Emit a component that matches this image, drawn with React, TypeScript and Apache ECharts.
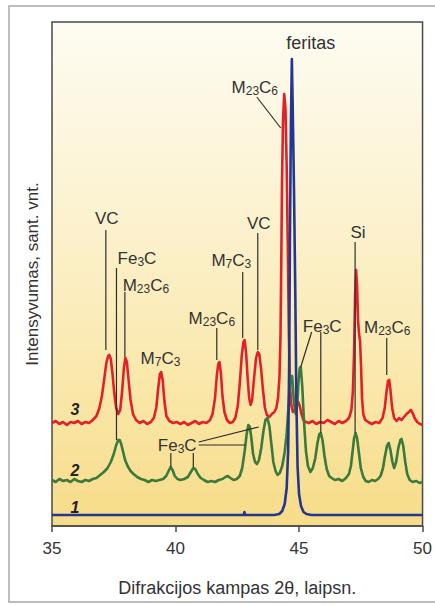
import React, { useEffect, useRef } from "react";
import * as echarts from "echarts";

// Axis ranges: diffraction angle 2θ (degrees) and relative intensity (arbitrary units)
const X_MIN = 35;
const X_MAX = 50;
const X_STEP = 5;
const Y_MIN = 0;
const Y_MAX = 504;

const X_TITLE = "Difrakcijos kampas 2θ, laipsn.";
const Y_TITLE = "Intensyvumas, sant. vnt.";

// Pattern 1 – ferrite only
const pattern1: [number, number][] = [
  [35.0, 11], [36.5, 11], [38.0, 11], [39.5, 11], [41.0, 11], [42.5, 11], [42.76, 11],
  [42.79, 14], [42.82, 11], [43.5, 11], [44.0, 11], [44.2, 12], [44.32, 15], [44.42, 22],
  [44.5, 38], [44.56, 75], [44.6, 160], [44.63, 280], [44.67, 400], [44.71, 467],
  [44.75, 410], [44.8, 330], [44.85, 230], [44.89, 130], [44.94, 60], [45.0, 32],
  [45.08, 20], [45.18, 14], [45.3, 12], [45.5, 11], [47.0, 11], [48.5, 11], [50.0, 11],
];

// Pattern 2
const pattern2: [number, number][] = [
  [35.0, 46], [35.15, 44], [35.3, 47], [35.45, 45], [35.6, 46], [35.75, 44], [35.9, 47],
  [36.05, 45], [36.2, 44], [36.35, 46], [36.5, 45], [36.65, 47], [36.8, 48], [36.95, 51],
  [37.1, 54], [37.25, 58], [37.38, 64], [37.5, 72], [37.6, 81], [37.68, 86], [37.74, 86],
  [37.8, 82], [37.88, 74], [37.96, 66], [38.06, 60], [38.18, 55], [38.3, 52], [38.45, 49],
  [38.6, 47], [38.75, 46], [38.9, 44], [39.05, 46], [39.2, 45], [39.35, 46], [39.5, 47],
  [39.62, 50], [39.72, 55], [39.8, 59], [39.88, 56], [39.97, 50], [40.08, 47], [40.2, 46],
  [40.35, 47], [40.5, 49], [40.62, 54], [40.72, 58], [40.8, 57], [40.9, 52], [41.02, 48],
  [41.15, 46], [41.3, 44], [41.45, 45], [41.6, 44], [41.75, 46], [41.9, 47], [42.02, 49],
  [42.12, 50], [42.22, 48], [42.35, 46], [42.48, 47], [42.6, 50], [42.7, 58], [42.8, 75],
  [42.88, 92], [42.95, 101], [43.01, 99], [43.07, 88], [43.14, 72], [43.22, 64], [43.3, 62],
  [43.38, 66], [43.47, 78], [43.56, 95], [43.64, 106], [43.72, 108], [43.8, 100], [43.88, 82],
  [43.96, 64], [44.05, 55], [44.13, 51], [44.22, 53], [44.32, 60], [44.42, 74], [44.5, 92],
  [44.58, 122], [44.65, 148], [44.72, 150], [44.8, 122], [44.87, 112], [44.93, 122],
  [44.98, 145], [45.03, 158], [45.07, 159], [45.13, 140], [45.2, 105], [45.28, 75],
  [45.36, 60], [45.46, 54], [45.56, 58], [45.66, 68], [45.74, 82], [45.82, 92], [45.88, 93],
  [45.95, 86], [46.03, 70], [46.12, 57], [46.22, 50], [46.32, 48], [46.45, 46], [46.6, 47],
  [46.75, 45], [46.9, 48], [47.02, 52], [47.1, 60], [47.17, 75], [47.23, 88], [47.29, 93],
  [47.35, 88], [47.42, 74], [47.5, 58], [47.6, 49], [47.7, 45], [47.82, 44], [47.95, 46],
  [48.08, 45], [48.2, 47], [48.3, 50], [48.4, 58], [48.48, 70], [48.56, 80], [48.63, 83],
  [48.7, 76], [48.78, 64], [48.85, 58], [48.93, 64], [49.02, 78], [49.1, 86], [49.15, 87],
  [49.22, 80], [49.3, 64], [49.38, 52], [49.48, 46], [49.6, 44], [49.75, 45], [49.88, 43],
  [50.0, 44],
];

// Pattern 3
const pattern3: [number, number][] = [
  [35.0, 103], [35.15, 105], [35.3, 102], [35.45, 104], [35.6, 101], [35.75, 104], [35.9, 103],
  [36.05, 105], [36.2, 102], [36.35, 104], [36.5, 103], [36.65, 106], [36.8, 110], [36.92, 118],
  [37.02, 130], [37.12, 148], [37.2, 163], [37.27, 170], [37.32, 171], [37.38, 167],
  [37.45, 152], [37.52, 133], [37.6, 118], [37.68, 112], [37.76, 116], [37.84, 135],
  [37.91, 158], [37.97, 168], [38.03, 164], [38.1, 146], [38.18, 126], [38.28, 112],
  [38.4, 106], [38.55, 103], [38.7, 105], [38.85, 102], [39.0, 104], [39.12, 108], [39.22, 118],
  [39.3, 138], [39.37, 152], [39.42, 154], [39.48, 146], [39.55, 125], [39.63, 110],
  [39.75, 105], [39.9, 103], [40.05, 104], [40.2, 102], [40.35, 104], [40.5, 101], [40.65, 103],
  [40.8, 105], [40.95, 102], [41.1, 104], [41.25, 103], [41.4, 106], [41.5, 112], [41.6, 128],
  [41.67, 150], [41.73, 162], [41.78, 164], [41.84, 152], [41.9, 130], [41.98, 114],
  [42.08, 106], [42.2, 103], [42.32, 104], [42.42, 108], [42.52, 120], [42.6, 142],
  [42.68, 170], [42.75, 184], [42.8, 186], [42.86, 172], [42.92, 148], [42.98, 128],
  [43.04, 121], [43.1, 126], [43.18, 148], [43.26, 168], [43.33, 174], [43.39, 172],
  [43.46, 158], [43.54, 136], [43.62, 118], [43.7, 111], [43.8, 109], [43.9, 112], [44.0, 114],
  [44.08, 118], [44.15, 128], [44.21, 150], [44.25, 190], [44.28, 260], [44.31, 340],
  [44.35, 405], [44.4, 432], [44.45, 418], [44.5, 360], [44.55, 270], [44.59, 190],
  [44.63, 145], [44.68, 122], [44.75, 114], [44.83, 116], [44.9, 121], [44.97, 124],
  [45.03, 120], [45.1, 112], [45.18, 106], [45.28, 104], [45.4, 103], [45.55, 105], [45.7, 102],
  [45.85, 104], [46.0, 103], [46.15, 106], [46.3, 104], [46.45, 102], [46.6, 105], [46.75, 103],
  [46.9, 105], [47.02, 108], [47.12, 116], [47.18, 135], [47.23, 175], [47.27, 230],
  [47.31, 256], [47.35, 240], [47.39, 205], [47.43, 192], [47.47, 185], [47.51, 160],
  [47.55, 128], [47.6, 112], [47.68, 106], [47.8, 104], [47.95, 102], [48.1, 104], [48.25, 103],
  [48.38, 108], [48.47, 118], [48.54, 134], [48.6, 145], [48.65, 146], [48.7, 136], [48.77, 118],
  [48.85, 108], [48.95, 105], [49.05, 108], [49.15, 106], [49.25, 109], [49.35, 112],
  [49.45, 114], [49.53, 116], [49.6, 113], [49.68, 108], [49.78, 104], [49.9, 102], [50.0, 101],
];

// Phase labels: text position [2θ, intensity] and leader lines [x1, y1, x2, y2]
type Segment = [number, number, number, number];
type Annotation = { text: string; x: number; y: number; lines: Segment[]; style?: "number" | "title" };

const phaseLabels: Annotation[] = [
  { text: "feritas", x: 45.47, y: 483, lines: [], style: "title" },
  { text: "M{s|23}C{s|6}", x: 43.21, y: 439, lines: [[43.29, 429, 44.26, 398]] },
  { text: "VC", x: 37.22, y: 308, lines: [[37.18, 296, 37.18, 176]] },
  { text: "Fe{s|3}C", x: 38.44, y: 268, lines: [[37.61, 258, 37.61, 86]] },
  { text: "M{s|23}C{s|6}", x: 38.8, y: 241, lines: [[37.95, 234, 37.95, 169]] },
  { text: "M{s|7}C{s|3}", x: 39.39, y: 168, lines: [] },
  { text: "M{s|23}C{s|6}", x: 41.47, y: 208, lines: [[41.67, 198, 41.67, 166]] },
  { text: "M{s|7}C{s|3}", x: 42.26, y: 266, lines: [[42.72, 254, 42.72, 188]] },
  { text: "VC", x: 43.37, y: 303, lines: [[43.33, 293, 43.33, 176]] },
  {
    text: "Fe{s|3}C",
    x: 45.94,
    y: 200,
    lines: [
      [45.51, 194, 45.07, 159],
      [45.88, 194, 45.88, 93],
    ],
  },
  { text: "Si", x: 47.39, y: 294, lines: [[47.27, 284, 47.27, 93]] },
  { text: "M{s|23}C{s|6}", x: 48.57, y: 199, lines: [[48.55, 188, 48.55, 151]] },
  {
    text: "Fe{s|3}C",
    x: 40.07,
    y: 81,
    lines: [
      [39.81, 73, 39.81, 59],
      [40.72, 73, 40.72, 59],
      [40.94, 81, 42.84, 81],
      [40.94, 84, 43.37, 99],
    ],
  },
  { text: "3", x: 35.93, y: 117, lines: [], style: "number" },
  { text: "2", x: 35.93, y: 56, lines: [], style: "number" },
  { text: "1", x: 35.93, y: 19, lines: [], style: "number" },
];

const FONT = "'Liberation Sans', Arial, Helvetica, sans-serif";
const INK = "#333333";

export default function App() {
  const ref = useRef<HTMLDivElement>(null);

  useEffect(() => {
    document.body.style.margin = "0";
    if (!ref.current) return;
    const chart = echarts.init(ref.current, undefined, { renderer: "svg" });

    const lineSeries = (name: string, data: [number, number][], color: string) => ({
      name,
      type: "line",
      data,
      showSymbol: false,
      symbol: "none",
      smooth: false,
      lineStyle: { color, width: 2.6, join: "round" },
      silent: true,
    });

    chart.setOption({
      animation: false,
      backgroundColor: "#ffffff",
      graphic: [
        {
          type: "rect",
          silent: true,
          shape: { x: 9, y: 6, width: 440, height: 596 },
          style: { fill: "none", stroke: "#a8a8a8", lineWidth: 1.5 },
        },
      ],
      grid: {
        left: 52,
        right: 10,
        top: 22,
        bottom: 79,
        show: true,
        borderColor: "#4a4a4a",
        borderWidth: 1.5,
        backgroundColor: new echarts.graphic.LinearGradient(0, 0, 0, 1, [
          { offset: 0, color: "#FEFCF2" },
          { offset: 0.35, color: "#FCF3D3" },
          { offset: 0.68, color: "#FAE9AF" },
          { offset: 1, color: "#F7DC88" },
        ]),
      },
      xAxis: {
        type: "value",
        min: X_MIN,
        max: X_MAX,
        interval: X_STEP,
        name: X_TITLE,
        nameLocation: "middle",
        nameGap: 53,
        nameTextStyle: { fontFamily: FONT, fontSize: 18, color: INK },
        axisLine: { show: true, lineStyle: { color: "#4a4a4a", width: 1.5 } },
        axisTick: { show: true, inside: false, length: 6, lineStyle: { color: "#4a4a4a", width: 1.5 } },
        axisLabel: { fontFamily: FONT, fontSize: 17, color: INK, margin: 14 },
        splitLine: { show: false },
      },
      yAxis: {
        type: "value",
        min: Y_MIN,
        max: Y_MAX,
        name: Y_TITLE,
        nameLocation: "middle",
        nameGap: 11,
        nameTextStyle: { fontFamily: FONT, fontSize: 17, color: INK },
        axisLine: { show: false },
        axisTick: { show: false },
        axisLabel: { show: false },
        splitLine: { show: false },
      },
      series: [
        lineSeries("3", pattern3, "#E3202A"),
        lineSeries("2", pattern2, "#3B7A3A"),
        lineSeries("1", pattern1, "#22378F"),
        {
          type: "custom",
          name: "labels",
          silent: true,
          clip: false,
          z: 10,
          data: phaseLabels.map((a) => [a.x, a.y]),
          renderItem: (params: any, api: any) => {
            const a = phaseLabels[params.dataIndex];
            const p = api.coord([a.x, a.y]);
            const children: any[] = a.lines.map((s) => {
              const p1 = api.coord([s[0], s[1]]);
              const p2 = api.coord([s[2], s[3]]);
              return {
                type: "line",
                shape: { x1: p1[0], y1: p1[1], x2: p2[0], y2: p2[1] },
                style: { stroke: "#2e2e2e", lineWidth: 1.2 },
              };
            });
            const isNumber = a.style === "number";
            const isTitle = a.style === "title";
            children.push({
              type: "text",
              x: p[0],
              y: p[1],
              style: {
                text: a.text,
                fill: isNumber ? "#222222" : INK,
                fontFamily: FONT,
                fontSize: isNumber ? 16 : isTitle ? 18 : 17,
                fontStyle: isNumber ? "italic" : "normal",
                fontWeight: isNumber ? "bold" : "normal",
                align: "center",
                verticalAlign: "middle",
                rich: {
                  s: { fontFamily: FONT, fontSize: 12, fill: INK, padding: [8, 0, 0, 0] },
                },
              },
            });
            return { type: "group", children };
          },
        },
      ],
    });

    return () => chart.dispose();
  }, []);

  return <div ref={ref} style={{ width: 435, height: 605 }} />;
}
